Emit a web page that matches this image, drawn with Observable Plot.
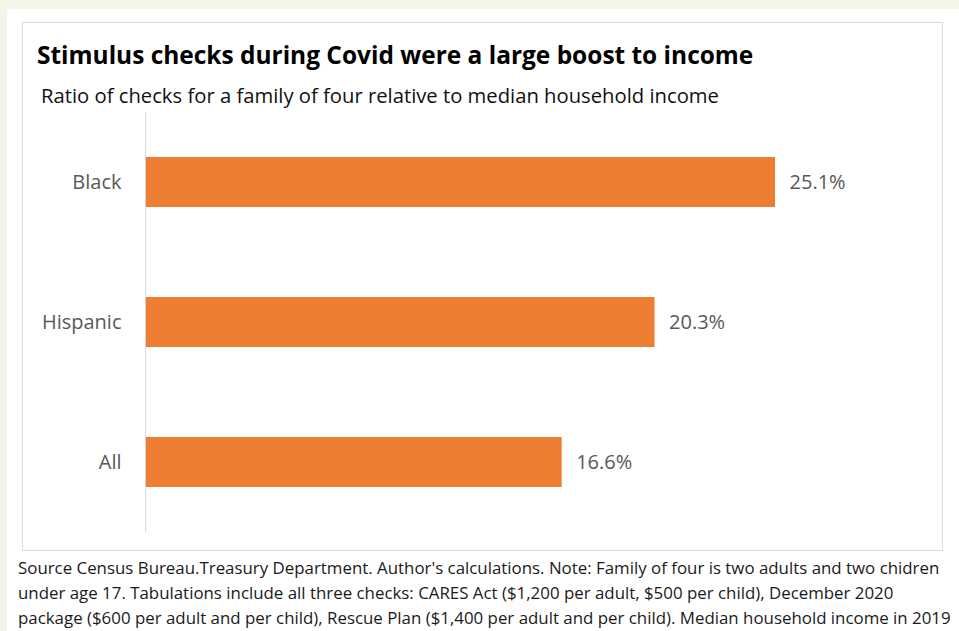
<!DOCTYPE html>
<html>
<head>
<meta charset="utf-8">
<script src="https://cdn.jsdelivr.net/npm/d3@7"></script>
<script src="https://cdn.jsdelivr.net/npm/@observablehq/plot@0.6"></script>
<style>
html, body { margin: 0; padding: 0; width: 959px; height: 631px; overflow: hidden; background: #fff; font-family: "Open Sans", sans-serif; }
#page { position: relative; width: 959px; height: 631px; overflow: hidden; }
#topstrip { position: absolute; left: 0; top: 0; width: 959px; height: 9px; background: #f3f5e8; }
#leftstrip { position: absolute; left: 0; top: 0; width: 7px; height: 631px; background: #f3f5e8; }
#panel { position: absolute; left: 22px; top: 22px; width: 919px; height: 527px; border: 1px solid #d9d9d9; background: #fff; }
.txt { position: absolute; white-space: nowrap; line-height: 1; }
#title { left: 37px; font-weight: 700; color: #000; font-size: 23px; }
#subtitle { left: 41px; color: #111; font-size: 19px; }
.foot { left: 18px; color: #1a1a1a; font-size: 15px; }
#chart { position: absolute; left: 22px; top: 106px; }
</style>
</head>
<body>
<div id="page">
  <div id="topstrip"></div>
  <div id="leftstrip"></div>
  <div id="panel"></div>
  <div id="title" class="txt"><span>Stimulus checks during Covid were a large boost to income</span></div>
  <div id="subtitle" class="txt"><span>Ratio of checks for a family of four relative to median household income</span></div>
  <div id="chart"></div>
  <div id="f1" class="txt foot"><span>Source Census Bureau.Treasury Department. Author's calculations. Note: Family of four is two adults and two chidren</span></div>
  <div id="f2" class="txt foot"><span>under age 17. Tabulations include all three checks: CARES Act ($1,200 per adult, $500 per child), December 2020</span></div>
  <div id="f3" class="txt foot"><span>package ($600 per adult and per child), Rescue Plan ($1,400 per adult and per child). Median household income in 2019</span></div>
</div>
<script>
const categories = ["Black", "Hispanic", "All"];
const values = [25.1, 20.3, 16.6];

const data = categories.map((c, i) => ({category: c, value: values[i]}));

const chart = Plot.plot({
  width: 920,
  height: 430,
  marginTop: 6,
  marginBottom: 4,
  marginLeft: 123,
  marginRight: 44,
  style: {fontFamily: '"Open Sans", sans-serif', fontSize: "20px", color: "#595959", background: "transparent", overflow: "visible"},
  x: {domain: [0, 30], axis: null},
  y: {domain: categories, paddingInner: 0.643, paddingOuter: 0.3215, label: null},
  marks: [
    Plot.barX(data, {x: "value", y: "category", fill: "#ED7D31"}),
    Plot.ruleX([0], {stroke: "#d9d9d9", strokeWidth: 1}),
    Plot.text(data, {x: "value", y: "category", text: d => d.value.toFixed(1) + "%", textAnchor: "start", dx: 14, fill: "#595959", fontSize: 20}),
    Plot.axisY({tickSize: 0, tickPadding: 24, fontSize: 20, fill: "#595959", label: null})
  ]
});
document.getElementById("chart").appendChild(chart);

// Fit text widths to the reference layout and place baselines
function fit(id, target) {
  const el = document.getElementById(id);
  const span = el.querySelector("span");
  let fs = parseFloat(getComputedStyle(el).fontSize);
  for (let i = 0; i < 5; i++) {
    const w = span.getBoundingClientRect().width;
    fs = fs * target / w;
    el.style.fontSize = fs + "px";
  }
  return fs;
}
function place(id, baseline, fs) {
  const el = document.getElementById(id);
  el.style.fontSize = fs + "px";
  el.style.top = (baseline - 0.888 * fs) + "px";
}
const tfs = fit("title", 716);
place("title", 65, tfs);
const sfs = fit("subtitle", 678);
place("subtitle", 103, sfs);
const ffs = fit("f1", 922);
place("f1", 575, ffs);
place("f2", 600, ffs);
place("f3", 625, ffs);
</script>
</body>
</html>
